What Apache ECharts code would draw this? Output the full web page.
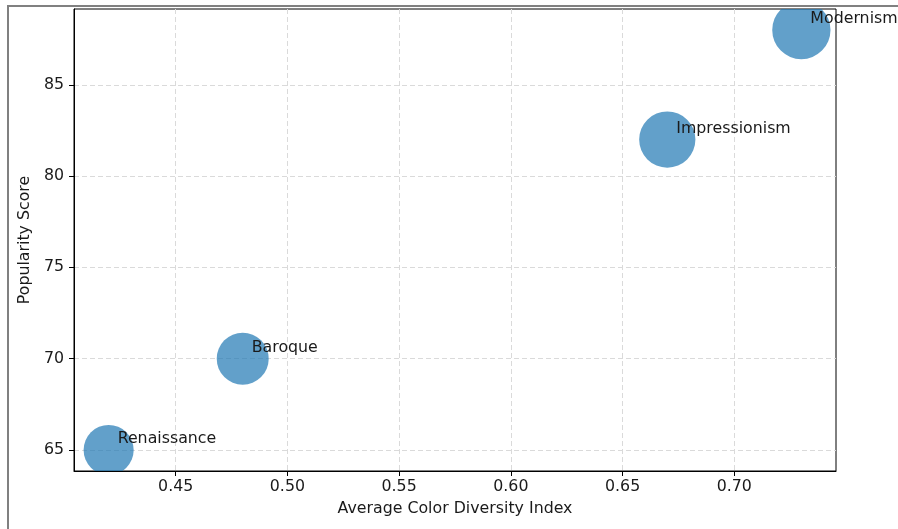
<!DOCTYPE html>
<html>
<head>
<meta charset="utf-8">
<script src="https://cdn.jsdelivr.net/npm/echarts@6/dist/echarts.min.js"></script>
<style>
html,body{margin:0;padding:0;background:#fff;}
#chart{width:898px;height:529px;}
</style>
</head>
<body>
<div id="chart"></div>
<script>
// ---- data ----
var movements = ['Renaissance', 'Baroque', 'Impressionism', 'Modernism'];
var colorDiversity = [0.42, 0.48, 0.67, 0.73];
var popularity = [65, 70, 82, 88];
var markerArea = [1300, 1400, 1640, 1760]; // bubble area (pt^2) as encoded in the original
var xTicks = [0.45, 0.50, 0.55, 0.60, 0.65, 0.70];
var yTicks = [65, 70, 75, 80, 85];

var FONT = '"DejaVu Sans", sans-serif';
var FS = 15.8;
var TXT = '#1a1a1a';

var points = movements.map(function (m, i) {
  return [colorDiversity[i], popularity[i], markerArea[i], m];
});

var chart = echarts.init(document.getElementById('chart'), null, {renderer: 'canvas'});
chart.setOption({
  animation: false,
  backgroundColor: '#fff',
  grid: {
    left: 74, right: 62, top: 9, bottom: 58,
    show: true, borderColor: '#000', borderWidth: 1, backgroundColor: 'transparent'
  },
  xAxis: {
    type: 'value',
    min: 0.4045, max: 0.7455,
    name: 'Average Color Diversity Index',
    nameLocation: 'middle', nameGap: 30,
    nameTextStyle: {fontFamily: FONT, fontSize: FS, color: TXT},
    axisLine: {show: true, lineStyle: {color: '#000', width: 1}},
    axisTick: {show: true, length: 5, lineStyle: {color: '#000', width: 1}, customValues: xTicks},
    axisLabel: {fontFamily: FONT, fontSize: FS, color: TXT, margin: 8, customValues: xTicks,
      formatter: function (v) { return v.toFixed(2); }},
    splitLine: {show: true, lineStyle: {color: '#dadada', width: 1, type: [5, 3]}}
  },
  yAxis: {
    type: 'value',
    min: 63.85, max: 89.15,
    name: 'Popularity Score',
    nameLocation: 'middle', nameGap: 40,
    nameTextStyle: {fontFamily: FONT, fontSize: FS, color: TXT},
    axisLine: {show: true, lineStyle: {color: '#000', width: 1}},
    axisTick: {show: true, length: 5, lineStyle: {color: '#000', width: 1}, customValues: yTicks},
    axisLabel: {fontFamily: FONT, fontSize: FS, color: TXT, margin: 10, customValues: yTicks,
      formatter: function (v) { return String(Math.round(v)); }},
    splitLine: {show: true, lineStyle: {color: '#dadada', width: 1, type: [5, 3]}}
  },
  series: [
    {
      type: 'custom',
      clip: true,
      data: points,
      z: 2,
      renderItem: function (params, api) {
        var p = api.coord([api.value(0), api.value(1)]);
        var r = Math.sqrt(api.value(2)) * (100 / 72) / 2;
        return {
          type: 'circle',
          shape: {cx: p[0], cy: p[1], r: r},
          style: {fill: '#1f77b4', opacity: 0.7, stroke: null}
        };
      }
    },
    {
      type: 'custom',
      clip: false,
      data: points,
      z: 3,
      renderItem: function (params, api) {
        var p = api.coord([api.value(0), api.value(1)]);
        return {
          type: 'text',
          x: p[0] + 9,
          y: p[1] - 11,
          style: {
            text: movements[params.dataIndex],
            font: FS + 'px ' + FONT,
            fill: TXT,
            align: 'left',
            verticalAlign: 'middle'
          }
        };
      }
    }
  ],
  graphic: [
    {type: 'line', shape: {x1: 7, y1: 6, x2: 898, y2: 6}, style: {stroke: '#808080', lineWidth: 2}, z: 10},
    {type: 'line', shape: {x1: 8, y1: 5, x2: 8, y2: 529}, style: {stroke: '#808080', lineWidth: 2}, z: 10}
  ]
});
</script>
</body>
</html>
